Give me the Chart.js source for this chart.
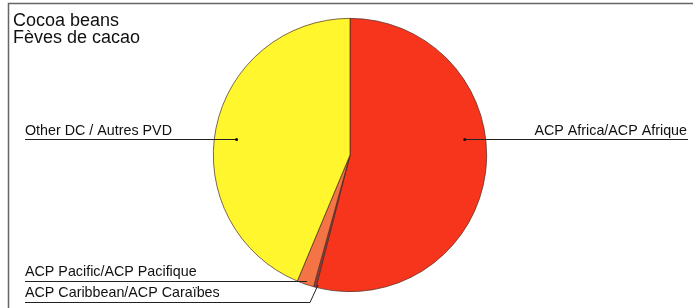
<!DOCTYPE html>
<html>
<head>
<meta charset="utf-8">
<script src="https://cdn.jsdelivr.net/npm/chart.js@4/dist/chart.umd.min.js"></script>
<style>
html,body{margin:0;padding:0;background:#ffffff;}
#wrap{position:relative;width:693px;height:308px;}
</style>
</head>
<body>
<div id="wrap"><canvas id="c" width="693" height="308"></canvas></div>
<script>
const titleLines = ["Cocoa beans", "Fèves de cacao"];
const categories = ["ACP Africa/ACP Afrique", "ACP Pacific/ACP Pacifique", "ACP Caribbean/ACP Caraïbes", "Other DC / Autres PVD"];
const shares = [54.0, 0.3, 2.0, 43.7];
const sliceColors = ["#f7341c", "#9a3a3a", "#f47446", "#fff62e"];

const annotate = {
  id: 'annotate',
  afterDraw(chart) {
    const ctx = chart.ctx;
    const arcs = chart.getDatasetMeta(0).data;
    const cx = arcs[0].x, cy = arcs[0].y, r = arcs[0].outerRadius;
    ctx.save();
    // frame
    ctx.strokeStyle = '#666';
    ctx.lineWidth = 1.5;
    ctx.beginPath();
    ctx.moveTo(8.5, 308);
    ctx.lineTo(8.5, 3.5);
    ctx.lineTo(693, 3.5);
    ctx.stroke();
    // title
    ctx.fillStyle = '#111';
    ctx.font = '18px "Liberation Sans", Arial, sans-serif';
    ctx.textBaseline = 'alphabetic';
    ctx.fillText(titleLines[0], 13, 26);
    ctx.fillText(titleLines[1], 13, 43);
    // labels
    ctx.font = '14.3px "Liberation Sans", Arial, sans-serif';
    ctx.strokeStyle = '#222';
    ctx.lineWidth = 1;
    const ly = cy - 16;
    // Other DC (left)
    ctx.textAlign = 'left';
    ctx.fillText(categories[3], 25, ly - 4);
    ctx.beginPath(); ctx.moveTo(25, ly + 0.5); ctx.lineTo(cx - r * 0.83, ly + 0.5); ctx.stroke();
    ctx.beginPath(); ctx.arc(cx - r * 0.83, ly + 0.5, 1.5, 0, Math.PI * 2); ctx.fill();
    // Africa (right)
    ctx.textAlign = 'right';
    ctx.fillText(categories[0], 687, ly - 4);
    ctx.beginPath(); ctx.moveTo(688, ly + 0.5); ctx.lineTo(cx + r * 0.84, ly + 0.5); ctx.stroke();
    ctx.beginPath(); ctx.arc(cx + r * 0.84, ly + 0.5, 1.5, 0, Math.PI * 2); ctx.fill();
    // Pacific
    ctx.textAlign = 'left';
    const py = cy + 126;
    ctx.fillText(categories[1], 25, py - 5);
    ctx.beginPath(); ctx.moveTo(25, py + 0.5); ctx.lineTo(cx - 43, py + 0.5); ctx.stroke();
    // Caribbean
    const cyy = cy + 147;
    ctx.fillText(categories[2], 25, cyy - 5);
    ctx.beginPath(); ctx.moveTo(25, cyy + 0.5); ctx.lineTo(cx - 40, cyy + 0.5); ctx.lineTo(cx - 32, cy + 130); ctx.stroke();
    ctx.restore();
  }
};

new Chart(document.getElementById('c'), {
  type: 'pie',
  data: {
    labels: categories,
    datasets: [{
      data: shares,
      backgroundColor: sliceColors,
      borderColor: '#4a2a20',
      borderWidth: 0.7
    }]
  },
  options: {
    responsive: false,
    animation: false,
    layout: { padding: { top: 18, bottom: 16, left: 7, right: 0 } },
    plugins: { legend: { display: false }, tooltip: { enabled: false }, title: { display: false } }
  },
  plugins: [annotate]
});
</script>
</body>
</html>
